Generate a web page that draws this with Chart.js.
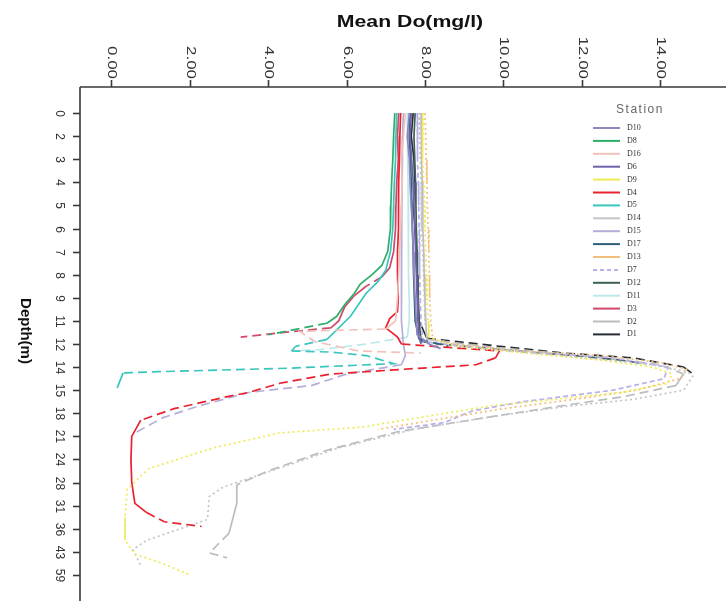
<!DOCTYPE html>
<html>
<head>
<meta charset="utf-8">
<script src="https://cdn.jsdelivr.net/npm/chart.js@4/dist/chart.umd.min.js"></script>
<style>
  html, body { margin: 0; padding: 0; background: #fff; }
  canvas { display: block; }
</style>
</head>
<body>
<canvas id="c" width="726" height="601"></canvas>
<script>
// Depth axis categories (m), evenly spaced on the axis
const depthLabels = ['0','2','3','4','5','6','7','8','9','11','12','14','15','18','21','24','28','31','36','43','59'];
// Dissolved oxygen tick values (mg/l)
const doTicks = [0, 2, 4, 6, 8, 10, 12, 14];

// Station profiles: [position on depth axis, mean DO (mg/l)]
const D10 = [[0,7.6],[1,7.55],[2,7.6],[3,7.62],[4,7.65],[5,7.68],[6,7.7],[7,7.72],[8,7.75],[9,7.78],[9.6,7.8],[10,8.1],[10.2,8.4]];
const D8  = [[0,7.23],[1,7.2],[2,7.18],[3,7.15],[4,7.13],[5,7.12],[6,7.05],[6.6,6.9],[7,6.65],[7.4,6.35],[7.8,6.2],[8.3,5.95],[8.8,5.75],[9.1,5.5],[9.4,4.6],[9.6,4.0]];
const D16 = [[0,7.5],[1,7.45],[2,7.4],[3,7.42],[4,7.4],[5,7.38],[6,7.35],[7,7.33],[8,7.3],[9,7.25],[9.35,7.0],[9.45,4.8],[9.9,5.2],[10.3,6.3],[10.4,7.9]];
const D6  = [[0,7.65],[1,7.62],[2,7.66],[3,7.7],[4,7.72],[5,7.74],[6,7.76],[7,7.78],[8,7.8],[9,7.82],[9.7,7.85],[10,7.9]];
const D9  = [[0,7.95],[1,7.93],[2,7.95],[3,7.97],[4,8.0],[5,8.0],[6,8.02],[7,8.03],[8,8.05],[9,8.08],[9.7,8.1],[10.1,8.8],[10.4,10.6],[10.7,12.5],[11.0,13.8],[11.3,14.3],[11.7,14.2],[12.1,13.0],[12.45,11.0],[12.65,9.8],[13.2,7.8],[13.6,6.4],[13.85,4.3],[14.5,2.6],[15.4,0.95],[16.3,0.4],[17.5,0.35],[18.5,0.35],[19.1,0.6],[19.5,1.3],[20,2.0]];
const D4  = [[0,7.38],[1,7.36],[2,7.35],[3,7.33],[4,7.33],[5,7.32],[6,7.3],[7,7.3],[8,7.32],[8.6,7.3],[8.9,7.1],[9.3,7.0],[9.7,7.3],[10.0,7.4],[10.15,8.6],[10.3,9.9],[10.6,9.8],[10.9,9.3],[11.1,7.4],[11.3,5.6],[11.7,4.3],[12.1,3.5],[12.3,2.9],[12.8,1.6],[13.3,0.75],[14,0.52],[15,0.5],[16,0.52],[16.9,0.6],[17.3,0.9],[17.7,1.35],[17.9,2.3]];
const D5  = [[0,7.28],[1,7.26],[2,7.25],[3,7.22],[4,7.2],[5,7.18],[6,7.12],[6.8,7.0],[7.3,6.8],[7.8,6.5],[8.3,6.3],[8.8,6.1],[9.3,5.8],[9.8,5.5],[10.1,4.7],[10.3,4.6],[10.35,5.6],[10.5,6.5],[10.85,7.2],[11.05,4.5],[11.2,1.2],[11.25,0.3],[11.9,0.15]];
const D14 = [[0,7.85],[1,7.86],[2,7.88],[3,7.9],[4,7.9],[5,7.92],[6,7.94],[7,7.96],[8,7.98],[9,8.0],[9.8,8.05],[10.1,9.0],[10.5,11.5],[10.9,13.8],[11.2,14.7],[11.4,14.83],[12,14.6],[12.4,13.3],[12.7,11.6],[13.1,9.9],[13.7,7.7],[14.5,5.8],[15.6,3.9],[16.2,2.85],[16.6,2.5],[17.6,2.45],[18.5,0.9],[18.9,0.55],[19.6,0.75]];
const D15 = [[0,7.45],[1,7.43],[2,7.42],[3,7.42],[4,7.41],[5,7.4],[6,7.4],[7,7.4],[8,7.4],[9,7.4],[10,7.45],[10.5,7.5],[10.9,7.4],[11.3,6.0],[11.8,5.1],[12.1,3.5],[12.7,2.2],[13.2,1.3],[13.9,0.55]];
const D17 = [[0,7.62],[1,7.6],[2,7.63],[3,7.65],[4,7.66],[5,7.68],[6,7.7],[7,7.71],[8,7.73],[9,7.75],[9.8,7.85],[10.1,8.6]];
const D13 = [[0,8.0],[1,8.02],[2,8.03],[3,8.05],[4,8.06],[5,8.08],[6,8.1],[7,8.11],[8,8.12],[9,8.15],[9.8,8.2],[10.0,8.8],[10.3,10.5],[10.5,12.5],[10.8,14.0],[11.1,14.7],[11.5,14.5],[12.0,13.4],[12.4,11.8],[12.8,10.0],[13.3,8.2],[13.7,6.8]];
const D7  = [[0,7.8],[1,7.8],[2,7.82],[3,7.83],[4,7.84],[5,7.85],[6,7.86],[7,7.87],[8,7.88],[9,7.9],[9.9,7.95],[10.2,9.5],[10.6,12.8],[11.0,14.2],[11.5,14.1],[12.0,12.8],[12.5,10.5],[12.9,9.2],[13.4,8.5],[13.7,7.2]];
const D12 = [[0,7.75],[1,7.72],[2,7.74],[3,7.76],[4,7.77],[5,7.78],[6,7.8],[7,7.81],[8,7.83],[9,7.85],[9.9,7.9],[10.0,8.4],[10.3,10.3],[10.5,11.8],[10.7,13.0],[10.85,13.6]];
const D11 = [[0,7.55],[1,7.55],[2,7.56],[3,7.57],[4,7.57],[5,7.58],[6,7.58],[7,7.59],[8,7.6],[9,7.6],[9.7,7.55],[10.0,6.5],[10.25,5.3],[10.3,4.6]];
const D3  = [[0,7.33],[1,7.3],[2,7.32],[3,7.28],[4,7.26],[5,7.25],[6,7.2],[6.7,7.1],[7.1,6.9],[7.5,6.5],[7.9,6.2],[8.4,5.95],[9.0,5.8],[9.3,5.6],[9.5,4.4],[9.7,3.3]];
const D2  = [[0,7.9],[1,7.9],[2,7.92],[3,7.93],[4,7.94],[5,7.95],[6,7.97],[7,7.98],[8,8.0],[9,8.02],[9.8,8.05],[10.1,9.5],[10.5,12.0],[10.9,14.0],[11.3,14.6],[11.8,14.4],[12.3,13.0],[12.7,11.4],[13.2,9.5],[13.8,7.3],[14.6,5.5],[15.5,4.0],[16.1,3.2],[16.9,3.2],[18.2,3.0],[19.05,2.5],[19.26,2.95]];
const D1  = [[0,7.7],[1,7.65],[2,7.72],[3,7.74],[4,7.7],[5,7.75],[6,7.78],[7,7.8],[8,7.82],[9,7.85],[9.75,8.05],[10.1,9.9],[10.4,11.6],[10.6,13.3],[11.0,14.6],[11.25,14.8]];

// Legend order and drawing styles
const stations = [
  { name: 'D10', data: D10, color: '#8e86c0' },
  { name: 'D8',  data: D8,  color: '#2fae6a' },
  { name: 'D16', data: D16, color: '#f0c2bc' },
  { name: 'D6',  data: D6,  color: '#6f62ad' },
  { name: 'D9',  data: D9,  color: '#eeea55', dot: true },
  { name: 'D4',  data: D4,  color: '#e8222e' },
  { name: 'D5',  data: D5,  color: '#38c6be' },
  { name: 'D14', data: D14, color: '#c4c4cc', dot: true },
  { name: 'D15', data: D15, color: '#b4aed8' },
  { name: 'D17', data: D17, color: '#2e5f7a' },
  { name: 'D13', data: D13, color: '#f2c07c', dot: true },
  { name: 'D7',  data: D7,  color: '#b8b0ec', dash: true },
  { name: 'D12', data: D12, color: '#3d5f55' },
  { name: 'D11', data: D11, color: '#bde8e8' },
  { name: 'D3',  data: D3,  color: '#cf4a6a' },
  { name: 'D2',  data: D2,  color: '#bcbcbc' },
  { name: 'D1',  data: D1,  color: '#262c34' }
];

const FONT = '"Liberation Sans", Arial, sans-serif';

// Long jumps between readings are drawn dashed
function segDash(st) {
  return function (c) {
    if (st.dot) return [2, 3];
    if (st.dash) return [5, 3];
    const dx = Math.abs(c.p1.x - c.p0.x);
    return dx > 14 ? [9, 5] : undefined;
  };
}

const datasets = stations.map(st => ({
  label: st.name,
  data: st.data.map(p => ({ x: p[1], y: p[0] })),
  borderColor: st.color,
  backgroundColor: st.color,
  borderWidth: 1.7,
  pointRadius: 0,
  showLine: true,
  tension: 0,
  fill: false,
  segment: { borderDash: segDash(st) }
}));

// Axes, titles and station legend
const decorations = {
  id: 'decorations',
  afterDraw(chart) {
    const ctx = chart.ctx;
    const xs = chart.scales.x, ys = chart.scales.y;
    const a = chart.chartArea;
    ctx.save();
    ctx.strokeStyle = '#3a3a3a';
    ctx.lineWidth = 1.6;
    ctx.beginPath();
    ctx.moveTo(a.left, a.top); ctx.lineTo(a.right, a.top);
    ctx.moveTo(a.left, a.top); ctx.lineTo(a.left, a.bottom);
    ctx.stroke();

    // DO ticks along the top
    ctx.fillStyle = '#333';
    doTicks.forEach(v => {
      const px = Math.round(xs.getPixelForValue(v)) + 0.5;
      ctx.beginPath();
      ctx.moveTo(px, a.top); ctx.lineTo(px, a.top - 7);
      ctx.stroke();
      ctx.save();
      ctx.translate(px, a.top - 8);
      ctx.rotate(Math.PI / 2);
      ctx.scale(1.3, 1);
      ctx.font = '13px ' + FONT;
      ctx.textAlign = 'right';
      ctx.textBaseline = 'middle';
      ctx.fillText(v.toFixed(2), 0, 0);
      ctx.restore();
    });

    // Depth ticks along the left
    depthLabels.forEach((lab, i) => {
      const py = Math.round(ys.getPixelForValue(i)) + 0.5;
      ctx.beginPath();
      ctx.moveTo(a.left, py); ctx.lineTo(a.left - 7, py);
      ctx.stroke();
      ctx.save();
      ctx.translate(a.left - 21, py);
      ctx.rotate(Math.PI / 2);
      ctx.font = '12px ' + FONT;
      ctx.textAlign = 'center';
      ctx.textBaseline = 'middle';
      ctx.fillText(lab, 0, 0);
      ctx.restore();
    });

    // Axis titles
    ctx.fillStyle = '#111';
    ctx.save();
    ctx.translate(410, 22);
    ctx.scale(1.25, 1);
    ctx.font = 'bold 17px ' + FONT;
    ctx.textAlign = 'center';
    ctx.textBaseline = 'middle';
    ctx.fillText('Mean Do(mg/l)', 0, 0);
    ctx.restore();

    ctx.save();
    ctx.translate(25, 331);
    ctx.rotate(Math.PI / 2);
    ctx.font = 'bold 15px ' + FONT;
    ctx.textAlign = 'center';
    ctx.textBaseline = 'middle';
    ctx.fillText('Depth(m)', 0, 0);
    ctx.restore();

    // Legend
    ctx.save();
    ctx.fillStyle = '#666';
    ctx.font = '12px ' + FONT;
    ctx.letterSpacing = '1.5px';
    ctx.textAlign = 'center';
    ctx.textBaseline = 'middle';
    ctx.fillText('Station', 640, 110);
    ctx.restore();

    chart.data.datasets.forEach((ds, i) => {
      const y = 128 + i * 12.9;
      const st = stations[i];
      ctx.save();
      ctx.strokeStyle = ds.borderColor;
      ctx.lineWidth = 2;
      if (st.dash) ctx.setLineDash([4, 3]);
      ctx.beginPath();
      ctx.moveTo(593, y); ctx.lineTo(620, y);
      ctx.stroke();
      ctx.restore();
      ctx.save();
      ctx.fillStyle = '#333';
      ctx.font = '8px "Liberation Serif", "DejaVu Serif", serif';
      ctx.textAlign = 'left';
      ctx.textBaseline = 'middle';
      ctx.fillText(ds.label, 627, y);
      ctx.restore();
    });
    ctx.restore();
  }
};

new Chart(document.getElementById('c'), {
  type: 'scatter',
  data: { datasets },
  options: {
    responsive: false,
    animation: false,
    devicePixelRatio: 1,
    layout: { padding: { left: 80, top: 87, right: 0, bottom: 0 } },
    plugins: { legend: { display: false }, tooltip: { enabled: false } },
    scales: {
      x: { type: 'linear', min: -0.8, max: 15.68, display: false },
      y: { type: 'linear', reverse: true, min: -1.13, max: 21.13, display: false }
    }
  },
  plugins: [decorations]
});
</script>
</body>
</html>
